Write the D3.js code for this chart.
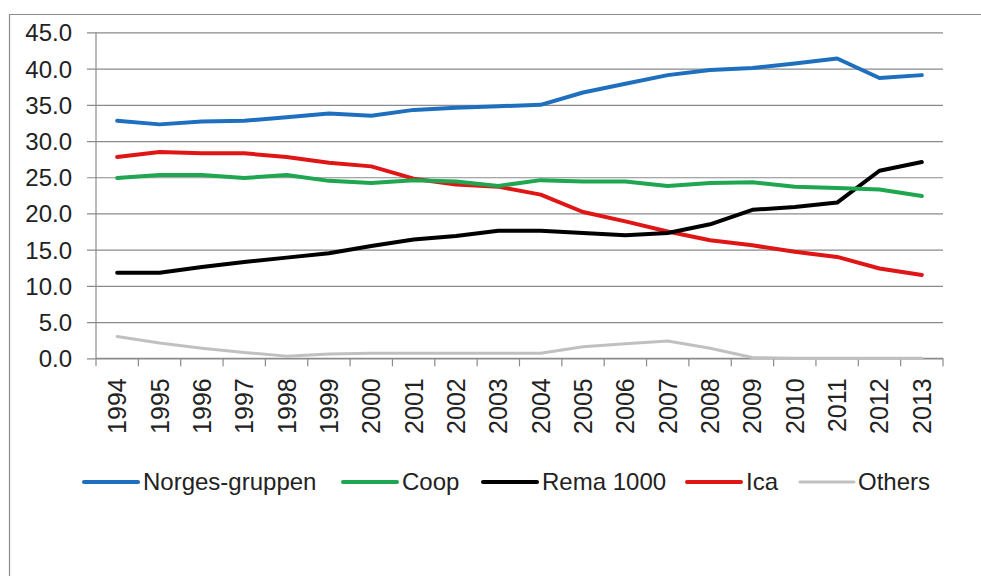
<!DOCTYPE html>
<html>
<head>
<meta charset="utf-8">
<script src="https://cdn.jsdelivr.net/npm/d3@7/dist/d3.min.js"></script>
<style>
  body { margin: 0; background: #fff; }
  svg text { font-family: "Liberation Sans", Arial, sans-serif; fill: #222; }
</style>
</head>
<body>
<svg id="svg1" width="981" height="576"></svg>
<script>
// data (market share, %)
var years = ["1994","1995","1996","1997","1998","1999","2000","2001","2002","2003",
             "2004","2005","2006","2007","2008","2009","2010","2011","2012","2013"];
var norgesgruppen = [32.8,32.3,32.7,32.8,33.3,33.8,33.5,34.3,34.6,34.8,35.0,36.7,37.9,39.1,39.8,40.1,40.7,41.4,38.7,39.1];
var coop          = [24.9,25.3,25.3,24.9,25.3,24.5,24.2,24.6,24.4,23.8,24.6,24.4,24.4,23.8,24.2,24.3,23.7,23.5,23.3,22.4];
var rema1000      = [11.8,11.8,12.6,13.3,13.9,14.5,15.5,16.4,16.9,17.6,17.6,17.3,17.0,17.3,18.5,20.5,20.9,21.5,25.9,27.1];
var ica           = [27.8,28.5,28.3,28.3,27.8,27.0,26.5,24.8,24.0,23.7,22.6,20.2,18.9,17.5,16.3,15.6,14.7,14.0,12.4,11.5];
var others        = [3.0,2.1,1.4,0.8,0.3,0.6,0.7,0.7,0.7,0.7,0.7,1.6,2.0,2.4,1.4,0.1,0.0,0.0,0.0,0.0];
var yTicks = [0,5,10,15,20,25,30,35,40,45];

var series = [
  {name: "Norges-gruppen", values: norgesgruppen, color: "#1f6fbf", width: 4},
  {name: "Coop",           values: coop,          color: "#1ea650", width: 4},
  {name: "Rema 1000",      values: rema1000,      color: "#000000", width: 4},
  {name: "Ica",            values: ica,           color: "#e01616", width: 4},
  {name: "Others",         values: others,        color: "#c0c0c0", width: 3}
];

//plot area edges
var plotLeft = 96, plotRight = 943, plotTop = 32.4, plotBottom = 358.3;
var svg = d3.select("#svg1");

// outer frame (left and top edges visible)
svg.append("path")
  .attr("d", "M9.5,576 L9.5,14.5 L981,14.5")
  .attr("fill", "none")
  .attr("stroke", "#8c8c8c")
  .attr("stroke-width", 1.2);

var xScale = d3.scaleBand().domain(years).range([plotLeft, plotRight]);
var yScale = d3.scaleLinear().domain([0, 45]).range([plotBottom, plotTop]);

// gridlines + y axis
var y_axis = d3.axisLeft(yScale)
  .tickValues(yTicks)
  .tickFormat(d3.format(".1f"))
  .tickSize(-(plotRight - plotLeft))
  .tickSizeOuter(0);
var gy = svg.append("g")
  .attr("transform", "translate(" + plotLeft + ",0)")
  .call(y_axis);
gy.select(".domain").remove();
gy.selectAll(".tick line")
  .attr("x1", -9)
  .attr("stroke", "#8a8a8a")
  .attr("stroke-width", 1.2);
gy.selectAll(".tick text")
  .attr("x", -24)
  .attr("dy", "0.35em")
  .style("font-size", "24px")
  .style("font-family", "Liberation Sans, Arial, sans-serif")
  .attr("fill", "#222");

// left axis line
svg.append("line")
  .attr("x1", plotLeft).attr("x2", plotLeft)
  .attr("y1", plotTop).attr("y2", plotBottom)
  .attr("stroke", "#8a8a8a").attr("stroke-width", 1.2);

// x axis with ticks at band boundaries
var gx = svg.append("g").attr("transform", "translate(0," + plotBottom + ")");
gx.append("line")
  .attr("x1", plotLeft).attr("x2", plotRight)
  .attr("stroke", "#8a8a8a").attr("stroke-width", 1.2);
var bounds = years.map(function(d){ return xScale(d); }).concat([plotRight]);
gx.selectAll("line.tk")
  .data(bounds)
  .enter().append("line")
  .attr("class", "tk")
  .attr("x1", function(d){ return d; })
  .attr("x2", function(d){ return d; })
  .attr("y1", 0).attr("y2", 8)
  .attr("stroke", "#8a8a8a").attr("stroke-width", 1.2);
gx.selectAll("text")
  .data(years)
  .enter().append("text")
  .text(function(d){ return d; })
  .attr("text-anchor", "end")
  .style("font-size", "25px")
  .attr("transform", function(d){
    return "translate(" + (xScale(d) + xScale.bandwidth() / 2 + 9) + ",20) rotate(-90)";
  });

// lines
var line = d3.line()
  .x(function(d, i){ return xScale(years[i]) + xScale.bandwidth() / 2; })
  .y(function(d){ return yScale(d); });

svg.selectAll("path.series")
  .data(series.slice().reverse())
  .enter().append("path")
  .attr("class", "series")
  .attr("d", function(d){ return line(d.values); })
  .attr("fill", "none")
  .attr("stroke", function(d){ return d.color; })
  .attr("stroke-width", function(d){ return d.width; })
  .attr("stroke-linejoin", "round")
  .attr("stroke-linecap", "round");

// legend
var legendX = [84, 343, 483, 687, 800];
var legendY = 482;
var lg = svg.selectAll("g.legend")
  .data(series)
  .enter().append("g")
  .attr("class", "legend")
  .attr("transform", function(d, i){ return "translate(" + legendX[i] + "," + legendY + ")"; });
lg.append("line")
  .attr("x1", 0).attr("x2", 54)
  .attr("stroke", function(d){ return d.color; })
  .attr("stroke-width", function(d){ return d.width; })
  .attr("stroke-linecap", "round");
lg.append("text")
  .attr("x", function(d, i){ return i == 4 ? 58 : 59; })
  .attr("dy", "0.35em")
  .style("font-size", "24px")
  .text(function(d){ return d.name; });
</script>
</body>
</html>
